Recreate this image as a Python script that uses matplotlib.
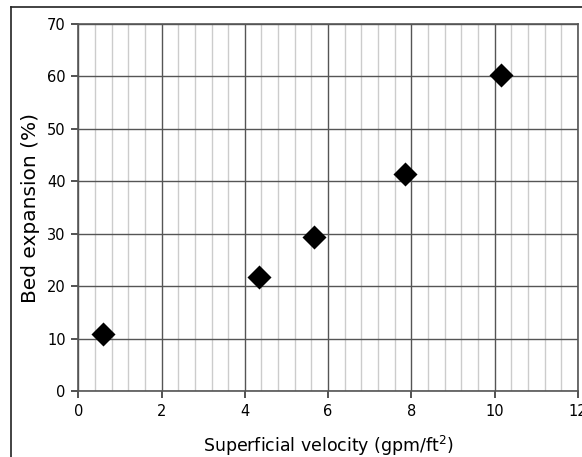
import matplotlib
matplotlib.use("Agg")
import matplotlib.pyplot as plt
from matplotlib.lines import Line2D
from matplotlib.ticker import MultipleLocator

# data
velocity = [0.6, 4.35, 5.65, 7.85, 10.15]      # gpm/ft2
expansion = [10.9, 21.8, 29.3, 41.3, 60.2]     # %

x_ticks = [0, 2, 4, 6, 8, 10, 12]
y_ticks = [0, 10, 20, 30, 40, 50, 60, 70]

fig = plt.figure(figsize=(5.82, 4.57), dpi=100)
ax = fig.add_axes([0.1345, 0.1444, 0.8585, 0.8031])

# outer frame (runs off the right and bottom edge)
fig.add_artist(Line2D([0.019, 0.019], [0.0, 0.985], transform=fig.transFigure, color="#222222", lw=1.2))
fig.add_artist(Line2D([0.019, 1.0], [0.985, 0.985], transform=fig.transFigure, color="#222222", lw=1.2))

ax.scatter(velocity, expansion, marker="D", s=150, color="black", zorder=5, linewidths=0)

ax.set_xlim(0, 12)
ax.set_ylim(0, 70)
ax.set_xticks(x_ticks)
ax.set_yticks(y_ticks)
ax.xaxis.set_minor_locator(MultipleLocator(0.4))

ax.grid(True, which="major", color="#555555", linewidth=1.0)
ax.grid(True, which="minor", axis="x", color="#cccccc", linewidth=1.0)
ax.set_axisbelow(True)

for side in ax.spines.values():
    side.set_color("#555555")
    side.set_linewidth(1.2)

ax.tick_params(axis="both", which="major", direction="out", length=5, width=1.2,
               color="#333333", labelsize=10.5, pad=4)
ax.tick_params(axis="x", which="minor", length=0)

ax.set_xlabel("Superficial velocity (gpm/ft$^2$)", fontsize=12.5, labelpad=11)
ax.set_ylabel("Bed expansion (%)", fontsize=14.5, labelpad=5)

fig.savefig("out.png", dpi=100)
